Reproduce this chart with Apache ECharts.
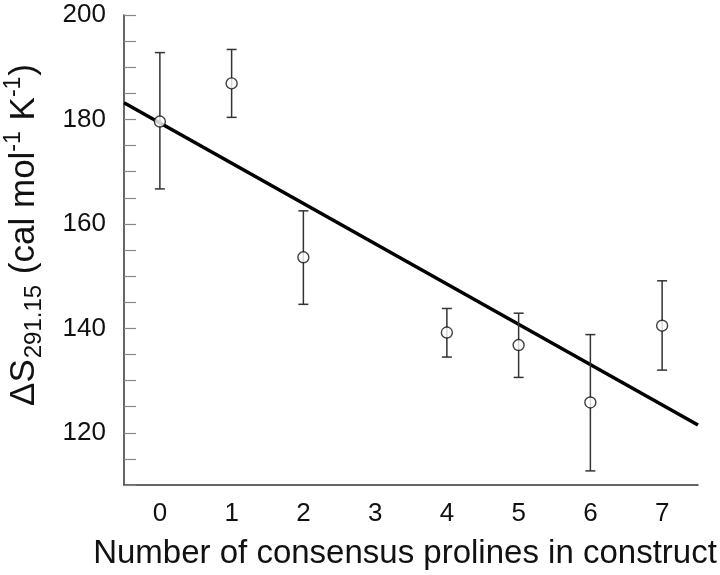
<!DOCTYPE html>
<html>
<head>
<meta charset="utf-8">
<script src="https://cdn.jsdelivr.net/npm/echarts@6/dist/echarts.min.js"></script>
<style>html,body{margin:0;padding:0;background:#fff;}#c{width:720px;height:575px;}</style>
</head>
<body>
<div id="c"></div>
<script>
const xValues = [0, 1, 2, 4, 5, 6, 7];
const meanValues = [179.6, 186.9, 153.6, 139.2, 136.8, 125.8, 140.5];
const upperValues = [192.8, 193.4, 162.5, 143.8, 142.9, 138.8, 149.1];
const lowerValues = [166.7, 180.4, 144.6, 134.5, 130.6, 112.7, 132.0];
const fitX = [-0.5, 7.5];
const fitY = [183.2, 121.5];
const xTickValues = [0, 1, 2, 3, 4, 5, 6, 7];
const yLabelValues = [120, 140, 160, 180, 200];

const FONT = '"Liberation Sans", Arial, Helvetica, sans-serif';
const chart = echarts.init(document.getElementById('c'));

const points = xValues.map((x, i) => [x, meanValues[i]]);
const errs = xValues.map((x, i) => [x, lowerValues[i], upperValues[i]]);
const fit = fitX.map((x, i) => [x, fitY[i]]);

chart.setOption({
  animation: false,
  backgroundColor: '#fff',
  grid: { left: 124, right: 22, top: 15, bottom: 90, containLabel: false, outerBoundsMode: 'none' },
  xAxis: {
    type: 'value', min: -0.5, max: 7.5,
    axisLine: { onZero: false, lineStyle: { color: '#333', width: 1.5 } },
    axisTick: { show: false },
    splitLine: { show: false },
    axisLabel: { customValues: xTickValues, fontSize: 26, color: '#111', fontFamily: FONT, margin: 16 },
    name: 'Number of consensus prolines in construct',
    nameLocation: 'middle', nameGap: 52,
    nameTextStyle: { fontSize: 33, color: '#111', fontFamily: FONT, padding: [0, 12, 0, 0] }
  },
  yAxis: {
    type: 'value', min: 110, max: 200, interval: 5,
    axisLine: { onZero: false, lineStyle: { color: '#333', width: 1.5 } },
    axisTick: { show: true, inside: true, length: 12, lineStyle: { color: '#888', width: 1.2 } },
    splitLine: { show: false },
    axisLabel: {
      fontSize: 26, color: '#111', fontFamily: FONT, margin: 18,
      formatter: v => yLabelValues.indexOf(v) >= 0 ? String(v) : ''
    },
    name: '{a|ΔS}{sub|291.15}{a| (cal mol}{sup|-1}{a| K}{sup|-1}{a|)}',
    nameLocation: 'middle', nameGap: 78, nameRotate: 90,
    nameTextStyle: {
      color: '#111', fontFamily: FONT, padding: [0, 0, 0, 30],
      rich: {
        a: { fontSize: 35, color: '#111', fontFamily: FONT, lineHeight: 44, verticalAlign: 'middle' },
        sub: { fontSize: 24, color: '#111', fontFamily: FONT, lineHeight: 44, verticalAlign: 'bottom', padding: [24, 1, 0, 1] },
        sup: { fontSize: 23, color: '#111', fontFamily: FONT, lineHeight: 44, verticalAlign: 'top', padding: [0, 1, 16, 0] }
      }
    }
  },
  series: [
    {
      type: 'line', data: fit, symbol: 'none', z: 3,
      lineStyle: { color: '#000', width: 3.5 }
    },
    {
      type: 'custom', z: 4,
      renderItem: function (params, api) {
        const x = api.value(0);
        const lo = api.coord([x, api.value(1)]);
        const hi = api.coord([x, api.value(2)]);
        const hw = 5;
        const st = { stroke: '#333', lineWidth: 1.5 };
        return {
          type: 'group',
          children: [
            { type: 'line', shape: { x1: lo[0], y1: lo[1], x2: hi[0], y2: hi[1] }, style: st },
            { type: 'line', shape: { x1: lo[0] - hw, y1: lo[1], x2: lo[0] + hw, y2: lo[1] }, style: st },
            { type: 'line', shape: { x1: hi[0] - hw, y1: hi[1], x2: hi[0] + hw, y2: hi[1] }, style: st }
          ]
        };
      },
      data: errs
    },
    {
      type: 'scatter', data: points, symbol: 'circle', symbolSize: 11, z: 5,
      itemStyle: { color: '#fff', borderColor: '#111', borderWidth: 1.4 }
    }
  ]
});
</script>
</body>
</html>
